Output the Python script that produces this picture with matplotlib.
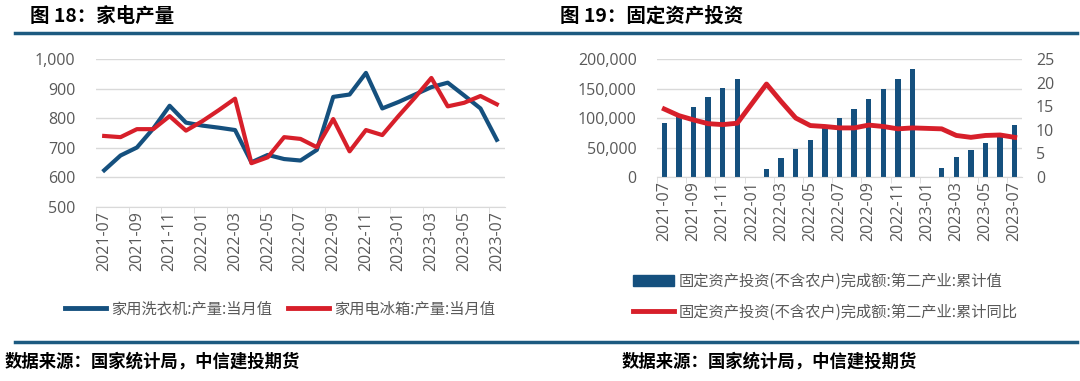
import numpy as np
import matplotlib
matplotlib.use("Agg")
import matplotlib.pyplot as plt
from matplotlib.lines import Line2D
from matplotlib.patches import Patch

plt.rcParams['font.family'] = ['Open Sans', 'Noto Sans CJK SC', 'DejaVu Sans']

BLUE = '#15507E'
RED = '#D71F2A'
RULE = '#1C5A80'
GREY = '#595959'
GRID = '#D9D9D9'
CJK = ['Noto Sans CJK SC', 'DejaVu Sans']

months = ['2021-07', '2021-08', '2021-09', '2021-10', '2021-11', '2021-12',
          '2022-01', '2022-02', '2022-03', '2022-04', '2022-05', '2022-06',
          '2022-07', '2022-08', '2022-09', '2022-10', '2022-11', '2022-12',
          '2023-01', '2023-02', '2023-03', '2023-04', '2023-05', '2023-06',
          '2023-07']

# chart 18: household appliance output, monthly
washer = [624, 674, 701, 765, 842, 785, 775, 768, 760, 651, 676, 662, 657,
          693, 872, 880, 953, 833, 855, 880, 905, 920, 877, 833, 727]
fridge = [740, 736, 763, 763, 807, 758, 790, 827, 866, 648, 668, 736, 730,
          702, 797, 688, 760, 743, 808, 870, 936, 840, 852, 875, 847]

# chart 19: fixed asset investment, secondary industry
fai_value = [91000, 103000, 118500, 134800, 150600, 166900, np.nan, 13500,
             31500, 47200, 63500, 84000, 100500, 115700, 132000, 148900,
             165700, 183100, np.nan, 15200, 33700, 45000, 57300, 68000, 88200]
fai_yoy = [14.4, 13.0, 12.1, 11.3, 11.1, 11.4, np.nan, 19.7, 16.0, 12.5,
           10.9, 10.7, 10.4, 10.4, 11.0, 10.7, 10.2, 10.4, np.nan, 10.2,
           8.8, 8.4, 8.8, 8.9, 8.4]

W, H = 1080, 381
fig = plt.figure(figsize=(W / 100, H / 100), dpi=100)


def box(x0, y0, x1, y1):
    return [x0 / W, 1 - y1 / H, (x1 - x0) / W, (y1 - y0) / H]


def style_axes(ax, ypad):
    for s in ['top', 'right', 'left']:
        ax.spines[s].set_visible(False)
    ax.spines['bottom'].set_color(GRID)
    ax.grid(axis='y', color=GRID, linewidth=1)
    ax.set_axisbelow(True)
    x = np.arange(len(months))
    ax.set_xlim(-0.5, len(months) - 0.5)
    ax.set_xticks(x[::2])
    ax.set_xticklabels(months[::2], rotation=90, fontsize=11.5, color=GREY)
    ax.set_xticks(np.arange(-0.5, len(months), 2), minor=True)
    ax.tick_params(axis='x', which='major', length=0, pad=3)
    ax.tick_params(axis='x', which='minor', length=4, color=GRID)
    ax.tick_params(axis='y', length=0, labelsize=11.5, labelcolor=GREY, pad=ypad)


# left chart
ax1 = fig.add_axes(box(96, 59, 505, 207))
x = np.arange(len(months))
ax1.plot(x, washer, color=BLUE, lw=3)
ax1.plot(x, fridge, color=RED, lw=3)
ax1.set_ylim(500, 1000)
ax1.set_yticks(range(500, 1001, 100))
ax1.yaxis.set_major_formatter(matplotlib.ticker.StrMethodFormatter('{x:,.0f}'))
style_axes(ax1, 15)

leg1 = fig.legend(
    handles=[Line2D([], [], color=BLUE, lw=3.5), Line2D([], [], color=RED, lw=3.5)],
    labels=['家用洗衣机:产量:当月值', '家用电冰箱:产量:当月值'],
    loc='center', bbox_to_anchor=(280 / W, 1 - 309 / H), ncol=2, frameon=False,
    prop={'family': CJK, 'size': 11}, handlelength=2.7, handletextpad=0.35,
    columnspacing=1.0, labelcolor=GREY)

# right chart
ax2 = fig.add_axes(box(657, 59, 1022, 177))
vals = np.array(fai_value, dtype=float)
ax2.bar(x, vals, width=0.38, color=BLUE)
ax2.set_ylim(0, 200000)
ax2.set_yticks(range(0, 200001, 50000))
ax2.yaxis.set_major_formatter(matplotlib.ticker.StrMethodFormatter('{x:,.0f}'))
style_axes(ax2, 14.5)

ax3 = ax2.twinx()
yoy = np.array(fai_yoy, dtype=float)
ok = ~np.isnan(yoy)
ax3.plot(x[ok], yoy[ok], color=RED, lw=3.5)
ax3.set_ylim(0, 25)
ax3.set_yticks(range(0, 26, 5))
for s in ['top', 'right', 'left', 'bottom']:
    ax3.spines[s].set_visible(False)
ax3.tick_params(axis='y', length=0, labelsize=11.5, labelcolor=GREY, pad=10)

leg2 = fig.legend(
    handles=[Patch(color=BLUE), Line2D([], [], color=RED, lw=3.5)],
    labels=['固定资产投资(不含农户)完成额:第二产业:累计值',
            '固定资产投资(不含农户)完成额:第二产业:累计同比'],
    loc='upper left', bbox_to_anchor=(619 / W, 1 - 259 / H), ncol=1, frameon=False,
    prop={'family': CJK, 'size': 11}, handlelength=2.7, handletextpad=0.3,
    labelspacing=0.9, labelcolor=GREY)

# titles, rules and source notes
fig.text(30 / W, 1 - 16 / H, '图 18：家电产量', fontsize=14, fontweight='bold',
         family=CJK, va='center', ha='left')
fig.text(560 / W, 1 - 16 / H, '图 19：固定资产投资', fontsize=14, fontweight='bold',
         family=CJK, va='center', ha='left')
fig.add_artist(Line2D([15 / W, 1077 / W], [1 - 33 / H] * 2, color=RULE, lw=2.5))
fig.add_artist(Line2D([15 / W, 1077 / W], [1 - 342 / H] * 2, color=RULE, lw=2.5))
fig.text(5 / W, 1 - 362 / H, '数据来源：国家统计局，中信建投期货', fontsize=12.5,
         fontweight='bold', style='italic', family=CJK, va='center', ha='left')
fig.text(622 / W, 1 - 362 / H, '数据来源：国家统计局，中信建投期货', fontsize=12.5,
         fontweight='bold', style='italic', family=CJK, va='center', ha='left')

fig.savefig('out.png', dpi=100)
